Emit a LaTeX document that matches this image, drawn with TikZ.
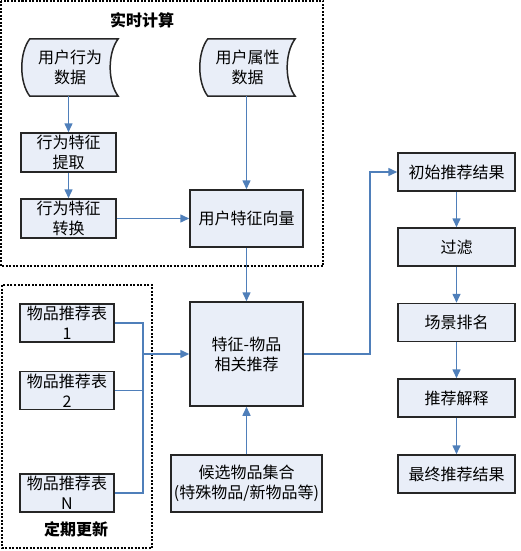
\documentclass[tikz,border=0pt]{standalone}
\usepackage{fontspec}
\setmainfont{Noto Sans CJK SC}
\usetikzlibrary{arrows.meta,calc}
\definecolor{boxfill}{HTML}{E9EEF8}
\definecolor{linkblue}{HTML}{4F7FBA}
\tikzset{
  box/.style={draw=black!85, line width=1.5pt, fill=boxfill, inner sep=0pt, align=center,
    font=\fontsize{16}{20}\selectfont},
  tapebox/.style={inner sep=0pt, align=center, font=\fontsize{16}{20}\selectfont},
  tapeline/.style={draw=black!85, line width=1.5pt, fill=boxfill},
  link/.style={draw=linkblue, line width=1.5pt},
  arrow/.style={link, -{Triangle[length=9pt,width=8pt]}},
  groupbox/.style={draw=black, line width=1.2pt, dash pattern=on 2pt off 1.5pt},
  grouptitle/.style={font=\fontsize{16}{18}\selectfont\bfseries}
}
\begin{document}
\begin{tikzpicture}[x=1pt,y=-1pt]
\useasboundingbox (0,0) rectangle (520,551);
% group boxes
\draw[groupbox] (1,1) rectangle (323,266);
\draw[groupbox] (2,285) rectangle (152,548);
\node[grouptitle] (rtitle) at (142,20) {实时计算};
\node[grouptitle] (ptitle) at (76,529) {定期更新};

% tape shapes
\node[tapebox, minimum width=96pt, minimum height=57pt] (uba) at (70,67.5) {};
\node[tapebox, minimum width=95pt, minimum height=57pt] (uattr) at (247.5,67.5) {};
\foreach \n in {uba,uattr}{
  \path[tapeline] ($(\n.north west)+(8,0)$) -- (\n.north east)
    .. controls ($(\n.north east)+(-10.7,14)$) and ($(\n.south east)+(-10.7,-14)$) .. (\n.south east)
    -- ($(\n.south west)+(8,0)$)
    .. controls ($(\n.south west)+(-2.7,-14)$) and ($(\n.north west)+(-2.7,14)$) .. cycle;
}
\node[tapebox] at (uba) {用户行为\\数据};
\node[tapebox] at (uattr) {用户属性\\数据};

% boxes
\node[box, minimum width=95pt, minimum height=39pt] (tq) at (68.5,152.5) {行为特征\\提取};
\node[box, minimum width=95pt, minimum height=39pt] (zh) at (68.5,218.5) {行为特征\\转换};
\node[box, minimum width=113pt, minimum height=57pt] (vec) at (246.5,218.5) {用户特征向量};
\node[box, minimum width=94pt, minimum height=38pt] (t1) at (67,323) {物品推荐表\\1};
\node[box, minimum width=94pt, minimum height=38pt] (t2) at (67,390.5) {物品推荐表\\2};
\node[box, minimum width=94pt, minimum height=38pt] (tN) at (67,493) {物品推荐表\\N};
\node[box, minimum width=113pt, minimum height=104pt] (rel) at (246.5,354) {特征-物品\\相关推荐};
\node[box, minimum width=151pt, minimum height=57pt] (cand) at (246.5,483.5) {候选物品集合\\(特殊物品/新物品等)};
\node[box, minimum width=117pt, minimum height=38pt] (init) at (456.5,172) {初始推荐结果};
\node[box, minimum width=117pt, minimum height=38pt] (filt) at (456.5,247) {过滤};
\node[box, minimum width=117pt, minimum height=38pt] (rank) at (456.5,322.5) {场景排名};
\node[box, minimum width=117pt, minimum height=38pt] (expl) at (456.5,398) {推荐解释};
\node[box, minimum width=117pt, minimum height=38pt] (final) at (456.5,474) {最终推荐结果};

% connectors
\coordinate (bus) at (143,354);
\coordinate (turn) at (370,354);
\draw[arrow] (uba.south -| tq.north) -- (tq.north);
\draw[arrow] (tq) -- (zh);
\draw[arrow] (zh.east) -- (zh.east -| vec.west);
\draw[arrow] (uattr.south -| vec.north) -- (vec.north);
\draw[arrow] (vec) -- (rel);
\draw[link] (t1.east) -| (bus);
\draw[link] (tN.east) -| (bus);
\draw[link] (t2.east) -- (t2.east -| bus);
\draw[arrow] (bus) -- (rel.west);
\draw[arrow] (cand) -- (rel);
\draw[arrow] (rel.east) -- (turn) |- (init.west);
\draw[arrow] (init) -- (filt);
\draw[arrow] (filt) -- (rank);
\draw[arrow] (rank) -- (expl);
\draw[arrow] (expl) -- (final);
\end{tikzpicture}
\end{document}
